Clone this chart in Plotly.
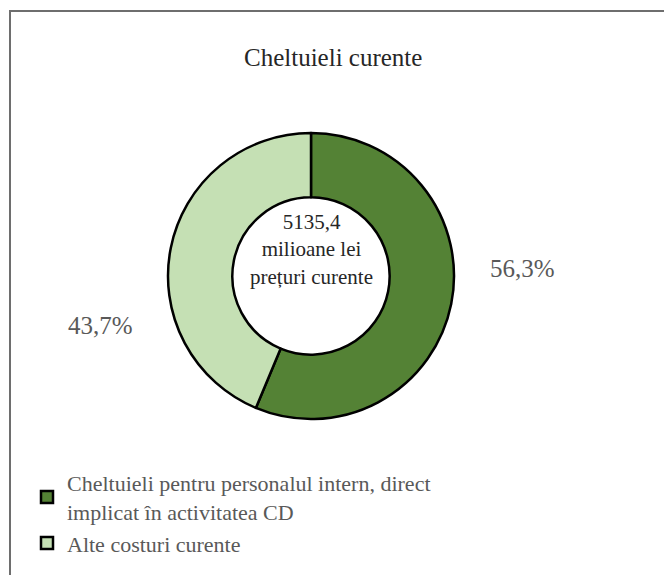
import plotly.graph_objects as go

title = "Cheltuieli curente"
categories = ["Cheltuieli pentru personalul intern, direct<br>implicat în activitatea CD",
              "Alte costuri curente"]
values = [56.3, 43.7]
total_value = "5135,4"
center_lines = ["milioane lei", "prețuri curente"]
colors = ["#548235", "#C5E0B4"]

W, H = 664, 575
cx, cy, R = 311, 276, 143

fig = go.Figure()
fig.add_trace(go.Pie(
    labels=categories, values=values, sort=False, direction="clockwise", rotation=0,
    hole=0.55, textinfo="none", hoverinfo="label+percent",
    marker=dict(colors=colors, line=dict(color="#000000", width=2.5)),
    domain=dict(x=[(cx - R) / W, (cx + R) / W], y=[1 - (cy + R) / H, 1 - (cy - R) / H]),
))

def fmt(v):
    return f"{v:.1f}".replace(".", ",") + "%"

label_pos = [(522 / W, 1 - 268 / H), (100 / W, 1 - 325 / H)]
annotations = []
for v, (x, y) in zip(values, label_pos):
    annotations.append(dict(x=x, y=y, xref="paper", yref="paper", text=fmt(v), showarrow=False,
                            xanchor="center", yanchor="middle",
                            font=dict(family="Liberation Serif", size=25, color="#595959")))
annotations.append(dict(x=cx / W, y=1 - 250 / H, xref="paper", yref="paper",
                        text="<br>".join([total_value] + center_lines), showarrow=False,
                        xanchor="center", yanchor="middle",
                        font=dict(family="Liberation Serif", size=21, color="#262626")))
annotations.append(dict(x=333 / W, y=1 - 57 / H, xref="paper", yref="paper", text=title,
                        showarrow=False, xanchor="center", yanchor="middle",
                        font=dict(family="Liberation Serif", size=25, color="#262626")))

fig.update_layout(
    width=W, height=H, margin=dict(l=0, r=0, t=0, b=0),
    paper_bgcolor="white", plot_bgcolor="white",
    annotations=annotations,
    showlegend=True,
    legend=dict(x=27 / W, y=1 - 462 / H, xanchor="left", yanchor="top",
                font=dict(family="Liberation Serif", size=22, color="#595959"),
                itemwidth=30, tracegroupgap=0, bgcolor="rgba(0,0,0,0)"),
    shapes=[dict(type="rect", xref="paper", yref="paper", x0=10 / W, x1=1.05,
                 y0=-0.05, y1=1 - 11 / H, line=dict(color="#6e6e6e", width=2))],
)

fig.write_html("out.html", config={"displayModeBar": False},
               post_script="document.body.style.margin='0px';")
